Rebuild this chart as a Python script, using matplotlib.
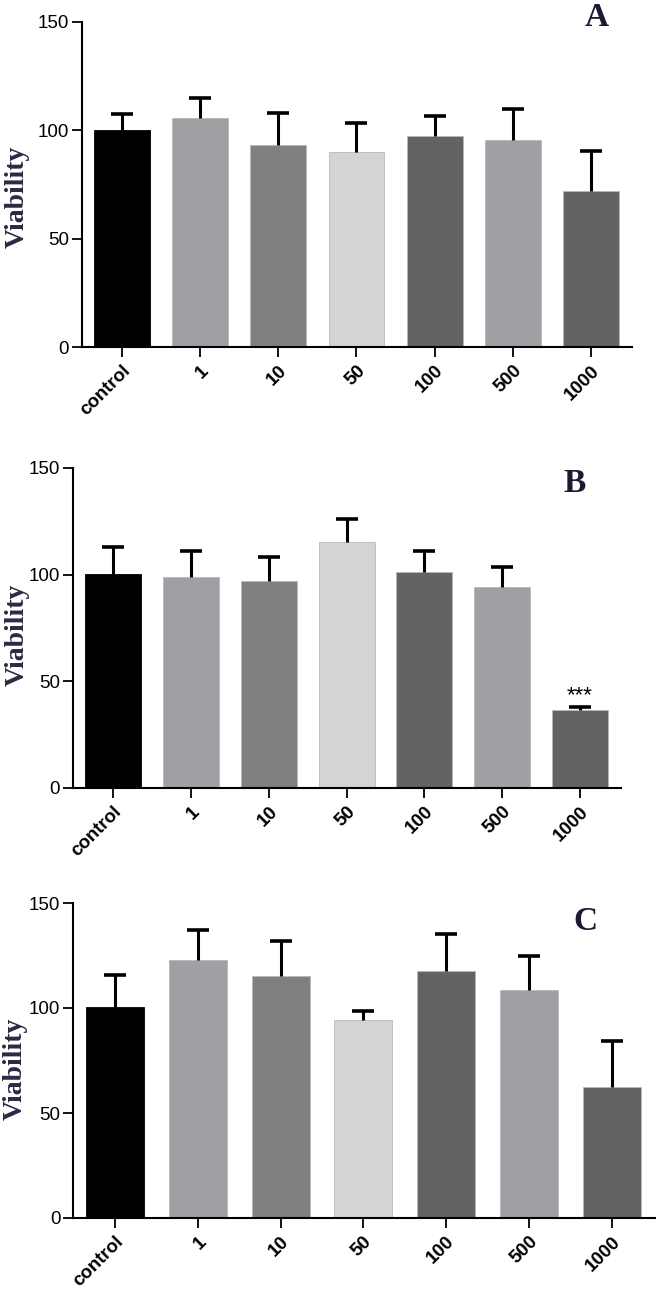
import matplotlib
matplotlib.use("Agg")
import matplotlib.pyplot as plt

categories = ["control", "1", "10", "50", "100", "500", "1000"]
bar_colors = ["#000000", "#a0a0a4", "#808080", "#d4d4d4", "#636363", "#a0a0a4", "#636363"]

viability_A = [100.2, 105.8, 93.1, 89.7, 97.4, 95.4, 71.8]
err_top_A = [107.4, 114.7, 108.1, 103.5, 106.3, 109.7, 90.5]

viability_B = [100.3, 98.9, 96.9, 115.2, 101.4, 94.1, 36.7]
err_top_B = [113.0, 111.3, 108.3, 126.3, 111.3, 103.4, 37.8]

viability_C = [100.3, 122.7, 115.4, 94.1, 117.6, 108.7, 62.5]
err_top_C = [115.9, 137.0, 132.0, 98.4, 135.4, 124.9, 84.1]

y_ticks = [0, 50, 100, 150]
panel_letters = ["A", "B", "C"]
ylabel_text = "Viability"

W, H = 656, 1292
fig = plt.figure(figsize=(W / 100, H / 100), dpi=100)

# layout: (left_px, right_px, top_px, bottom_px, xlim, bar width)
layouts = [
    (81.7, 632, 21.7, 347, (-0.515, 6.524), 0.716),
    (72.5, 621, 468, 788, (-0.526, 6.527), 0.72),
    (73, 656, 903, 1218, (-0.507, 6.535), 0.70),
]
letter_pos = [(597, 17), (575, 483), (585, 922)]
ylabel_pos = [(17, 197), (17, 635), (15, 1069)]

datasets = [(viability_A, err_top_A), (viability_B, err_top_B), (viability_C, err_top_C)]

for i, ((vals, tops), lay) in enumerate(zip(datasets, layouts)):
    l, r, t, b, xl, bw = lay
    ax = fig.add_axes([l / W, 1 - b / H, (r - l) / W, (b - t) / H])
    x = list(range(len(categories)))
    errs = [tp - v for tp, v in zip(tops, vals)]
    ax.bar(x, vals, width=bw, color=bar_colors,
           edgecolor=[c if c == "#000000" else "#b8b8b8" for c in bar_colors],
           linewidth=0.6, zorder=2)
    eb = ax.errorbar(x, vals, yerr=[[0] * len(vals), errs], fmt="none", ecolor="black",
                     elinewidth=2.2, capsize=8, capthick=2.6, zorder=3)
    caps = eb.lines[1]
    if len(caps) >= 2:
        caps[0].set_visible(False)
    ax.set_xlim(*xl)
    ax.set_ylim(0, 150)
    ax.set_yticks(y_ticks)
    ax.set_yticklabels([str(v) for v in y_ticks], fontsize=13.5, family="Liberation Sans")
    ax.set_xticks(x)
    ax.set_xticklabels(categories, rotation=45, ha="right", rotation_mode="anchor",
                       fontsize=13.5, fontweight="bold", family="Liberation Sans")
    for s in ["top", "right"]:
        ax.spines[s].set_visible(False)
    for s in ["left", "bottom"]:
        ax.spines[s].set_linewidth(1.5)
    ax.tick_params(axis="both", length=7, width=1.3, pad=2)
    ax.tick_params(axis="x", pad=4)
    if i == 1:
        ax.text(6, 40.5, "***", ha="center", va="baseline", fontsize=16, family="Liberation Sans")
    lx, ly = letter_pos[i]
    fig.text(lx / W, 1 - ly / H, panel_letters[i], ha="center", va="center", fontsize=24,
             fontweight="bold", family="Liberation Serif", color="#1a1a33")
    yx, yy = ylabel_pos[i]
    fig.text(yx / W, 1 - yy / H, ylabel_text, rotation=90, ha="center", va="center", fontsize=20,
             fontweight="bold", family="Liberation Serif", color="#2a2a44")

fig.savefig("out.png", dpi=100)
